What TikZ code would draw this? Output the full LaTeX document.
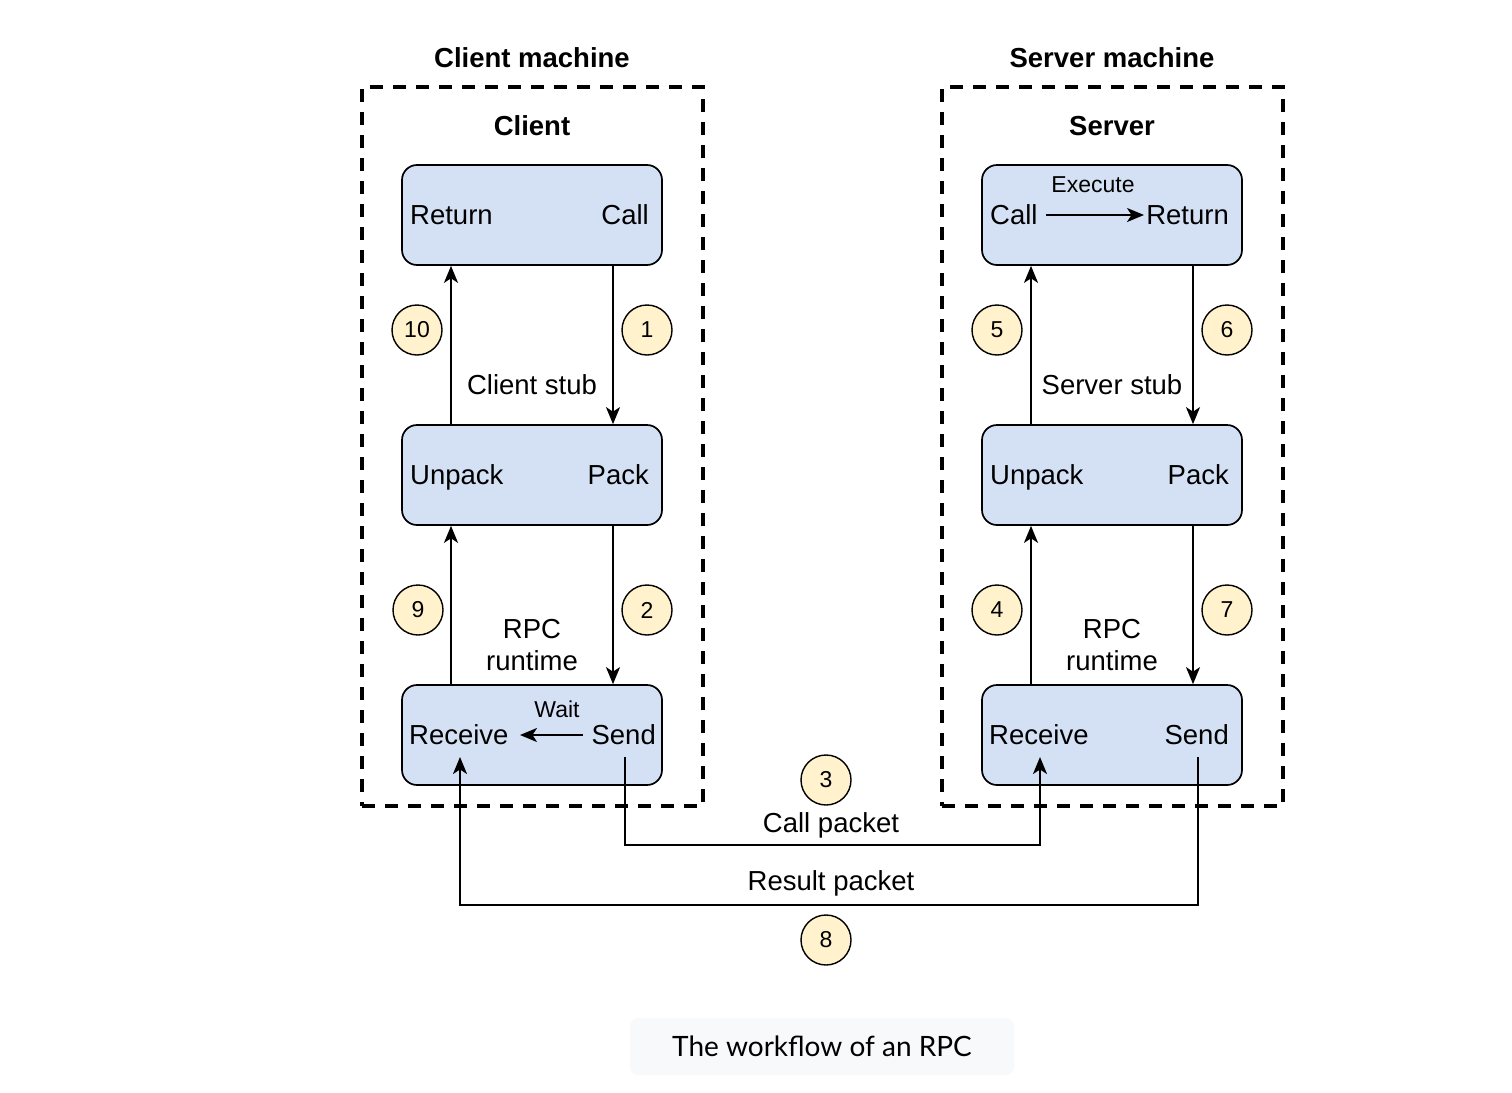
\documentclass[tikz,border=0pt]{standalone}
\usepackage{fontspec}
\setmainfont{Liberation Sans}
\newfontfamily\capfont{Lato}
\usetikzlibrary{arrows.meta,calc}
\definecolor{boxfill}{HTML}{D4E1F5}
\definecolor{numfill}{HTML}{FFF2CC}
\definecolor{capfill}{HTML}{F8F9FA}
\tikzset{
  box/.style={draw=black, line width=1.7pt, fill=boxfill, rounded corners=15pt, minimum width=260pt, minimum height=100pt, inner sep=0pt},
  machine/.style={draw=black, line width=3.2pt, dash pattern=on 13pt off 10pt, minimum width=341pt, minimum height=719pt, inner sep=0pt},
  lbl/.style={font=\fontsize{27.5}{32}\selectfont, inner sep=0pt},
  small/.style={font=\fontsize{23}{27}\selectfont, inner sep=0pt},
  ttl/.style={font=\fontsize{27.5}{32}\selectfont\bfseries, inner sep=0pt},
  num/.style={circle, draw=black, line width=1.4pt, fill=numfill, minimum size=50pt, inner sep=0pt, font=\fontsize{23}{26}\selectfont},
  arr/.style={line width=1.8pt, -{Stealth[length=17pt,width=14pt,inset=4.5pt]}},
}
\begin{document}
\begin{tikzpicture}[x=1pt,y=-1pt]
\useasboundingbox (0,0) rectangle (1512,1092);
% machines
\node[machine] (cm) at (532.5,446.5) {};
\node[machine] (sm) at (1112.5,446.5) {};
\node[ttl] (cmt) at (532,58) {Client machine};
\node[ttl] (smt) at (1112,58) {Server machine};
\node[ttl] (ct) at (532,126) {Client};
\node[ttl] (st) at (1112,126) {Server};
% boxes
\node[box] (c1) at (532,215) {};
\node[box] (c2) at (532,475) {};
\node[box] (c3) at (532,735) {};
\node[box] (s1) at (1112,215) {};
\node[box] (s2) at (1112,475) {};
\node[box] (s3) at (1112,735) {};
% client texts
\node[lbl, anchor=base west] (cRet) at (410,224.5) {Return};
\node[lbl, anchor=base east] (cCall) at (649,224.5) {Call};
\node[lbl, anchor=base west] (cUnp) at (410,484.5) {Unpack};
\node[lbl, anchor=base east] (cPack) at (649,484.5) {Pack};
\node[lbl, anchor=base west] (cRec) at (409,744.5) {Receive};
\node[lbl, anchor=base east] (cSend) at (656,744.5) {Send};
\node[small] (wait) at (557,709) {Wait};
\draw[arr] (583,735) coordinate (w1) -- (520,735) coordinate (w2);
% server texts
\node[lbl, anchor=base west] (sCall) at (990,224.5) {Call};
\node[lbl, anchor=base east] (sRet) at (1229,224.5) {Return};
\node[small] (exe) at (1093,185) {Execute};
\draw[arr] (1046,215) coordinate (e1) -- (1144,215) coordinate (e2);
\node[lbl, anchor=base west] (sUnp) at (990,484.5) {Unpack};
\node[lbl, anchor=base east] (sPack) at (1229,484.5) {Pack};
\node[lbl, anchor=base west] (sRec) at (989,744.5) {Receive};
\node[lbl, anchor=base east] (sSend) at (1229,744.5) {Send};
% stub labels
\node[lbl] (cstub) at (532,385) {Client stub};
\node[lbl, align=center] (crt) at (532,645) {RPC\\runtime};
\node[lbl] (sstub) at (1112,385) {Server stub};
\node[lbl, align=center] (srt) at (1112,645) {RPC\\runtime};
% vertical arrows
\coordinate (cl) at (451,0); \coordinate (cr) at (613,0);
\coordinate (sl) at (1031,0); \coordinate (sr) at (1193,0);
\draw[arr] (c1.south -| cr) -- (c2.north -| cr);
\draw[arr] (c2.south -| cr) -- (c3.north -| cr);
\draw[arr] (c2.north -| cl) -- (c1.south -| cl);
\draw[arr] (c3.north -| cl) -- (c2.south -| cl);
\draw[arr] (s1.south -| sr) -- (s2.north -| sr);
\draw[arr] (s2.south -| sr) -- (s3.north -| sr);
\draw[arr] (s2.north -| sl) -- (s1.south -| sl);
\draw[arr] (s3.north -| sl) -- (s2.south -| sl);
% numbers
\node[num] (n10) at (417,330) {10};
\node[num] (n1) at (647,330) {1};
\node[num] (n9) at (418,610) {9};
\node[num] (n2) at (647,610) {2};
\node[num] (n5) at (997,330) {5};
\node[num] (n6) at (1227,330) {6};
\node[num] (n4) at (997,610) {4};
\node[num] (n7) at (1227,610) {7};
\node[num] (n3) at (826,780) {3};
\node[num] (n8) at (826,940) {8};
% packets
\coordinate (p1) at (625,757);
\coordinate (p2) at (1040,757);
\draw[arr] (p1) |- (1040,845) -- (p2);
\coordinate (r1) at (1198,757);
\coordinate (r2) at (460,757);
\draw[arr] (r1) |- (460,905) -- (r2);
\node[lbl] (cp) at (831,825) {Call packet};
\node[lbl] (rp) at (831,883) {Result packet};
% caption
\node[fill=capfill, rounded corners=8pt, minimum width=384pt, minimum height=57pt, inner sep=0pt, font=\capfont\fontsize{28}{32}\selectfont] (cap) at (822,1046.5) {The workflow of an RPC};
\end{tikzpicture}
\end{document}
